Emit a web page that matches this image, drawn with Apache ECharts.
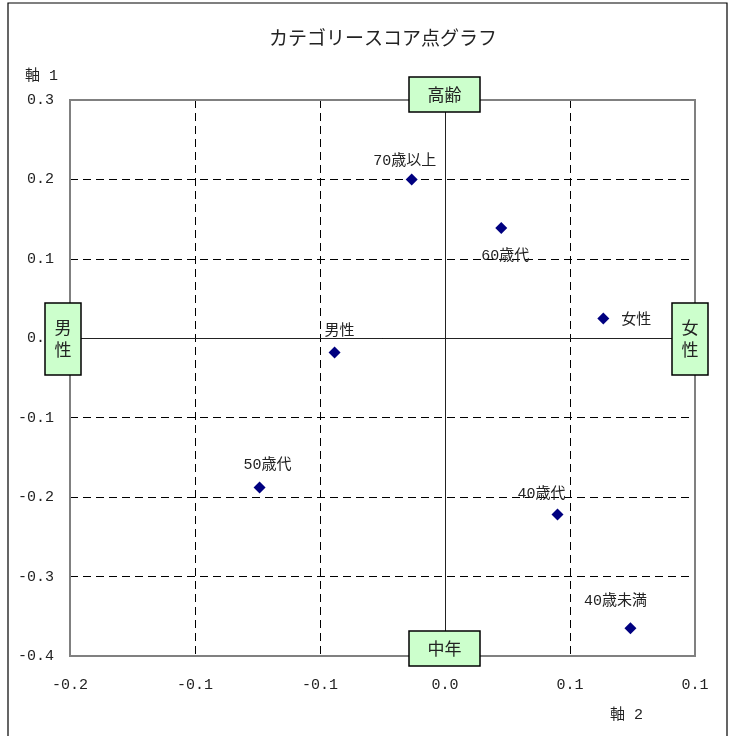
<!DOCTYPE html>
<html>
<head>
<meta charset="utf-8">
<script src="https://cdn.jsdelivr.net/npm/echarts@6/dist/echarts.min.js"></script>
<style>
    html, body { margin: 0; padding: 0; background: #fff; }
    #chart { width: 729px; height: 736px; }
</style>
</head>
<body>
<div id="chart"></div>
<script>
// カテゴリー名と座標 (軸2 = x, 軸1 = y)
let categories = ['70歳以上', '60歳代', '女性', '男性', '50歳代', '40歳代', '40歳未満']
let axis2Values = [-0.016, 0.027, 0.076, -0.053, -0.089, 0.054, 0.089]
let axis1Values = [0.200, 0.139, 0.025, -0.018, -0.188, -0.222, -0.365]

let font = '"Liberation Mono", "Noto Sans CJK JP", monospace'

// ラベル位置 (見た目の調整のみ)
let labelPos = {
    '70歳以上': { position: 'top', offset: [-7, 0] },
    '60歳代': { position: 'bottom', offset: [4, 10] },
    '女性': { position: 'right', offset: [7, 2] },
    '男性': { position: 'top', offset: [5, -3] },
    '50歳代': { position: 'top', offset: [8, -4] },
    '40歳代': { position: 'top', offset: [-16, -2] },
    '40歳未満': { position: 'top', offset: [-15, -9] }
}

let points = categories.map((name, i) => {
    return {
        name: name,
        value: [axis2Values[i], axis1Values[i]],
        label: labelPos[name]
    }
})

function oneDecimal(v) {
    let r = Math.round(v * 10) / 10
    return (Math.abs(r) < 1e-9 ? 0 : r).toFixed(1)
}

function box(x, y, w, h, text) {
    return [{
        type: 'rect',
        z: 100,
        shape: { x: x, y: y, width: w, height: h },
        style: { fill: '#ccffcc', stroke: '#000', lineWidth: 1.5 }
    }, {
        type: 'text',
        z: 101,
        x: x + w / 2,
        y: y + h / 2,
        style: {
            text: text,
            fill: '#222',
            font: '17px "Noto Sans CJK JP"',
            align: 'center',
            verticalAlign: 'middle',
            lineHeight: 22
        }
    }]
}

function plainText(x, y, text) {
    return {
        type: 'text',
        x: x,
        y: y,
        z: 100,
        style: { text: text, fill: '#222', font: '15px ' + font }
    }
}

let chart = echarts.init(document.getElementById('chart'))
let option = {
    animation: false,
    backgroundColor: '#fff',
    title: {
        text: 'カテゴリースコア点グラフ',
        left: 378,
        top: 23,
        textAlign: 'center',
        textStyle: { fontFamily: '"Noto Sans CJK JP"', fontSize: 19, fontWeight: 'normal', color: '#222' }
    },
    grid: {
        left: 70,
        right: 34,
        top: 100,
        bottom: 80,
        containLabel: false
    },
    xAxis: {
        type: 'value',
        min: -0.18,
        max: 0.12,
        interval: 0.06,
        axisLine: { show: false, onZero: false },
        axisTick: { show: false },
        axisLabel: {
            margin: 22,
            fontFamily: font,
            fontSize: 15,
            color: '#222',
            formatter: oneDecimal
        },
        splitLine: { lineStyle: { color: '#000', width: 1, type: [8, 5] } }
    },
    yAxis: {
        type: 'value',
        min: -0.4,
        max: 0.3,
        interval: 0.1,
        axisLine: { show: false, onZero: false },
        axisTick: { show: false },
        axisLabel: {
            margin: 16,
            fontFamily: font,
            fontSize: 15,
            color: '#222',
            formatter: oneDecimal
        },
        splitLine: { lineStyle: { color: '#000', width: 1, type: [8, 5] } }
    },
    series: [{
        type: 'scatter',
        symbol: 'diamond',
        symbolSize: 12,
        itemStyle: { color: '#000080', opacity: 1 },
        label: {
            show: true,
            formatter: '{b}',
            fontFamily: font,
            fontSize: 15,
            color: '#222',
            distance: 5
        },
        data: points,
        z: 10,
        markLine: {
            silent: true,
            symbol: 'none',
            label: { show: false },
            lineStyle: { color: '#222', width: 1, type: 'solid' },
            data: [{ xAxis: 0 }, { yAxis: 0 }]
        }
    }],
    graphic: [
        {
            type: 'rect',
            z: 0,
            shape: { x: 8, y: 3, width: 719, height: 760 },
            style: { fill: 'none', stroke: '#000', lineWidth: 1.2 }
        },
        {
            type: 'rect',
            z: 50,
            shape: { x: 70, y: 100, width: 625, height: 556 },
            style: { fill: 'none', stroke: '#808080', lineWidth: 2 }
        },
        plainText(25, 69, '軸 1'),
        plainText(610, 708, '軸 2'),
        ...box(409, 77, 71, 35, '高齢'),
        ...box(409, 631, 71, 35, '中年'),
        ...box(45, 303, 36, 72, '男\n性'),
        ...box(672, 303, 36, 72, '女\n性')
    ]
}
chart.setOption(option)
</script>
</body>
</html>
